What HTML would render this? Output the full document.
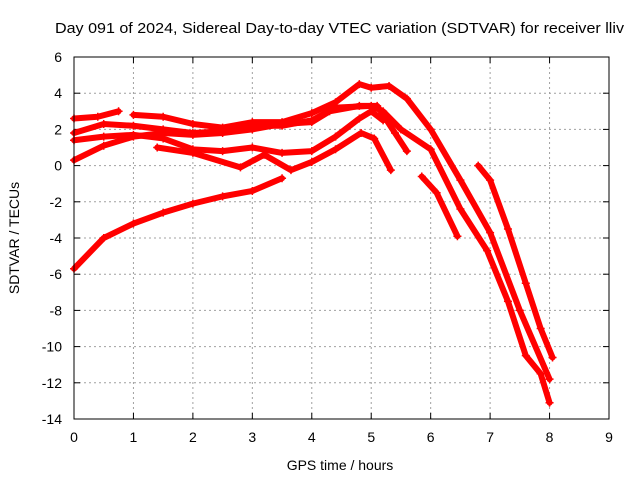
<!DOCTYPE html>
<html><head><meta charset="utf-8"><style>
body{margin:0;background:#fff;}
svg{display:block;font-family:"Liberation Sans",sans-serif;}
</style></head><body>
<svg id="chart" width="640" height="480" viewBox="0 0 640 480">
<rect width="640" height="480" fill="#fff"/>
<text x="55" y="33" font-size="15" textLength="569" lengthAdjust="spacingAndGlyphs">Day 091 of 2024, Sidereal Day-to-day VTEC variation (SDTVAR) for receiver lliv</text>
<text x="340" y="470" font-size="14" text-anchor="middle">GPS time / hours</text>
<text x="19" y="238" font-size="14" text-anchor="middle" transform="rotate(-90 19 238)">SDTVAR / TECUs</text>
<g id="grid"></g><g id="ticks"></g><g id="series"></g>
<rect x="74" y="57" width="535" height="362" fill="none" stroke="#000" stroke-width="1"/>
</svg>
<script>
const xTicks=[0,1,2,3,4,5,6,7,8,9];
const yTicks=[6,4,2,0,-2,-4,-6,-8,-10,-12,-14];
const seriesA=[[0,2.6],[0.4,2.7],[0.75,3.0]];
const seriesA2=[[1.0,2.8],[1.5,2.7],[2,2.3],[2.5,2.1],[3,2.4],[3.5,2.4],[4,2.9],[4.4,3.5],[4.8,4.5],[5.0,4.3],[5.3,4.4],[5.6,3.7],[6.0,2.0],[6.5,-0.8],[7.0,-3.7],[7.5,-8.0],[8.0,-11.8]];
const seriesB=[[0,1.8],[0.5,2.3],[1,2.2],[1.5,2.0],[2,1.8],[2.5,1.9],[3,2.2],[3.5,2.2],[4,2.5],[4.4,3.2],[5.0,3.3],[5.2,3.0],[5.5,2.0],[6.0,0.9],[6.5,-2.4],[6.95,-4.7],[7.3,-7.5],[7.6,-10.5],[7.85,-11.5],[8.0,-13.1]];
const seriesC=[[0,0.3],[0.5,1.1],[1,1.6],[1.5,1.8],[2,1.7],[2.5,1.8],[3,2.0],[3.5,2.3],[4,2.4],[4.3,3.0],[4.8,3.3],[5.1,3.3],[5.4,1.8],[5.6,0.8]];
const seriesD=[[0,1.4],[0.5,1.6],[1,1.7],[1.5,1.5],[2,0.9],[2.5,0.8],[3,1.0],[3.5,0.7],[4,0.8],[4.4,1.6],[4.8,2.6],[5.0,3.0],[5.2,2.5]];
const seriesE=[[1.4,1.0],[2,0.7],[2.8,-0.1],[3.2,0.6],[3.65,-0.25],[4.0,0.2],[4.4,0.9],[4.83,1.8],[5.05,1.5],[5.33,-0.25]];
const seriesF=[[0,-5.7],[0.5,-4.0],[1,-3.2],[1.5,-2.6],[2,-2.1],[2.5,-1.7],[3,-1.4],[3.5,-0.7]];
const seriesG=[[5.85,-0.6],[6.1,-1.5],[6.45,-3.9]];
const seriesH=[[6.8,0.0],[7.0,-0.8],[7.3,-3.5],[7.6,-6.5],[7.85,-9.0],[8.05,-10.6]];
const allSeries=[seriesA,seriesA2,seriesB,seriesC,seriesD,seriesE,seriesF,seriesG,seriesH];
const seriesNames=['series-a1','series-a2','series-b','series-c','series-d','series-e','series-f','series-g','series-h'];
const NS='http://www.w3.org/2000/svg';
function xs(t){return 74+t*(535/9);}
function ys(v){return 57+(6-v)*(362/20);}
const grid=document.getElementById('grid'),ticks=document.getElementById('ticks'),ser=document.getElementById('series');
function mk(tag,attrs,parent){const e=document.createElementNS(NS,tag);for(const k in attrs)e.setAttribute(k,attrs[k]);parent.appendChild(e);return e;}
xTicks.forEach(t=>{const x=xs(t);
 if(t>0&&t<9){const g=mk('line',{x1:x,y1:57,x2:x,y2:419,stroke:'#a0a0a0','stroke-dasharray':'2,3'},grid);}
 mk('line',{x1:x,y1:419,x2:x,y2:413,stroke:'#000'},ticks);mk('line',{x1:x,y1:57,x2:x,y2:63,stroke:'#000'},ticks);
 const l=mk('text',{x:x,y:442,'font-size':14,'text-anchor':'middle'},ticks);l.textContent=t;
 
 });
yTicks.forEach(v=>{const y=ys(v);
 if(v<6&&v>-14){const g=mk('line',{x1:74,y1:y,x2:609,y2:y,stroke:'#a0a0a0','stroke-dasharray':'2,3'},grid);}
 mk('line',{x1:74,y1:y,x2:80,y2:y,stroke:'#000'},ticks);mk('line',{x1:609,y1:y,x2:603,y2:y,stroke:'#000'},ticks);
 const l=mk('text',{x:62,y:y+5,'font-size':14,'text-anchor':'end'},ticks);l.textContent=v;
 
 });
allSeries.forEach((s,i)=>{
 const g=mk('g',{},ser);
 
 
 mk('polyline',{points:s.map(p=>xs(p[0])+','+ys(p[1])).join(' '),fill:'none',stroke:'#f00','stroke-width':6,'stroke-linejoin':'round','stroke-linecap':'round'},g);
 s.forEach(p=>{const x=xs(p[0]),y=ys(p[1]);
  mk('path',{d:`M${x-4},${y}H${x+4}M${x},${y-4}V${y+4}`,stroke:'#f00','stroke-width':1.5},g);});
});
</script>
</body></html>
